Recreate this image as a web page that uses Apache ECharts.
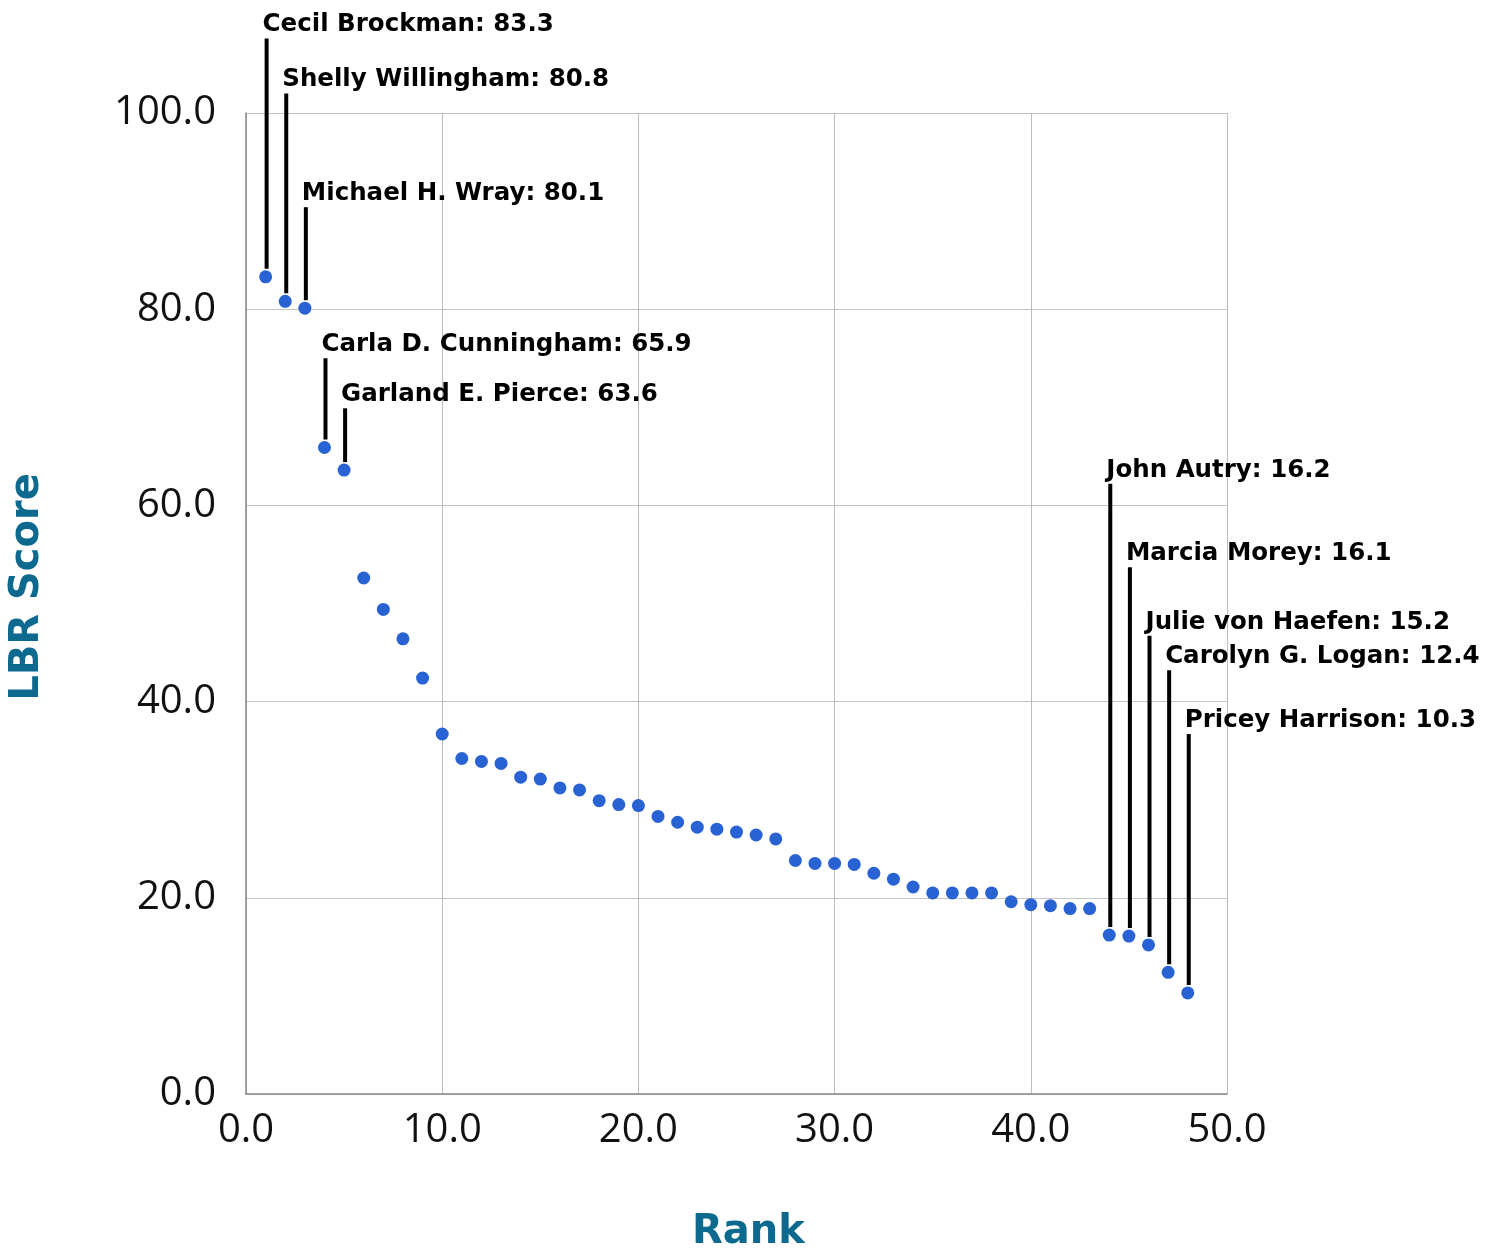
<!DOCTYPE html>
<html>
<head>
<meta charset="utf-8">
<script src="https://cdn.jsdelivr.net/npm/echarts@6/dist/echarts.min.js"></script>
<style>
  html, body { margin: 0; padding: 0; background: #ffffff; }
  #chart { width: 1485px; height: 1249px; }
</style>
</head>
<body>
<div id="chart"></div>
<script>
// ---- Data ----
const ranks = [1,2,3,4,5,6,7,8,9,10,11,12,13,14,15,16,17,18,19,20,21,22,23,24,25,26,27,28,29,30,31,32,33,34,35,36,37,38,39,40,41,42,43,44,45,46,47,48];
const scores = [83.3,80.8,80.1,65.9,63.6,52.6,49.4,46.4,42.4,36.7,34.2,33.9,33.7,32.3,32.1,31.2,31.0,29.9,29.5,29.4,28.3,27.7,27.2,27.0,26.7,26.4,26.0,23.8,23.5,23.5,23.4,22.5,21.9,21.1,20.5,20.5,20.5,20.5,19.6,19.3,19.2,18.9,18.9,16.2,16.1,15.2,12.4,10.3];

// Annotated legislators (rank, name)
const annRanks = [1, 2, 3, 4, 5, 44, 45, 46, 47, 48];
const annNames = ['Cecil Brockman', 'Shelly Willingham', 'Michael H. Wray', 'Carla D. Cunningham', 'Garland E. Pierce',
                  'John Autry', 'Marcia Morey', 'Julie von Haefen', 'Carolyn G. Logan', 'Pricey Harrison'];
// Height (in score units) where each annotation's leader line ends
const annLabelAt = [107.6, 102.0, 90.4, 75.0, 69.9, 62.2, 53.7, 46.7, 43.2, 36.7];

// Axis ticks
const xTicks = { min: 0, max: 50, interval: 10 };
const yTicks = { min: 0, max: 100, interval: 20 };

// ---- Build ----
const pointData = ranks.map((r, i) => [r, scores[i]]);
const annData = annRanks.map((r, i) => [r, scores[ranks.indexOf(r)], annLabelAt[i]]);

const tickFont = '"Open Sans", "Noto Sans", sans-serif';
const boldFont = '"DejaVu Sans", sans-serif';
const teal = '#0d6a8e';

const chart = echarts.init(document.getElementById('chart'), null, { renderer: 'canvas' });
chart.setOption({
  backgroundColor: '#ffffff',
  animation: false,
  grid: { left: 246, top: 113, width: 981, height: 981, containLabel: false },
  xAxis: {
    type: 'value', min: xTicks.min, max: xTicks.max, interval: xTicks.interval,
    axisLine: { show: true, lineStyle: { color: '#888888', width: 1.5 } },
    axisTick: { show: false },
    splitLine: { show: true, lineStyle: { color: '#bdbdbd', width: 1 } },
    axisLabel: { fontFamily: tickFont, fontSize: 40, color: '#111', margin: 17,
                 formatter: v => v.toFixed(1) }
  },
  yAxis: {
    type: 'value', min: yTicks.min, max: yTicks.max, interval: yTicks.interval,
    axisLine: { show: true, lineStyle: { color: '#888888', width: 1.5 } },
    axisTick: { show: false },
    splitLine: { show: true, lineStyle: { color: '#c4c4c4', width: 1 } },
    axisLabel: { fontFamily: tickFont, fontSize: 40, color: '#111', margin: 30,
                 formatter: v => v.toFixed(1) }
  },
  graphic: [
    { type: 'text', left: 692, top: 1213,
      style: { text: 'Rank', font: 'bold 40px ' + boldFont, fill: teal } },
    { type: 'text', x: 28, y: 587, rotation: Math.PI / 2,
      style: { text: 'LBR Score', font: 'bold 40px ' + boldFont, fill: teal,
               textAlign: 'center', textVerticalAlign: 'middle' } }
  ],
  series: [
    {
      type: 'scatter',
      data: pointData,
      symbol: 'circle',
      symbolSize: 13,
      itemStyle: { color: '#2962d2', opacity: 1 },
      z: 3
    },
    {
      type: 'custom',
      data: annData,
      encode: { x: 0, y: 1 },
      clip: false,
      silent: true,
      z: 4,
      renderItem: function (params, api) {
        const x = api.value(0), y = api.value(1), ly = api.value(2);
        const p = api.coord([x, y]);
        const top = api.coord([x, ly]);
        const name = annNames[params.dataIndex];
        return {
          type: 'group',
          children: [
            { type: 'line', shape: { x1: p[0] + 1, y1: p[1] - 8, x2: p[0] + 1, y2: top[1] },
              style: { stroke: '#000000', lineWidth: 4 } },
            { type: 'text',
              style: { text: name + ': ' + y.toFixed(1), x: p[0] - 3, y: top[1] - 1,
                       textAlign: 'left', textVerticalAlign: 'bottom',
                       font: 'bold 24.5px ' + boldFont, fill: '#000000' } }
          ]
        };
      }
    }
  ]
});
</script>
</body>
</html>
